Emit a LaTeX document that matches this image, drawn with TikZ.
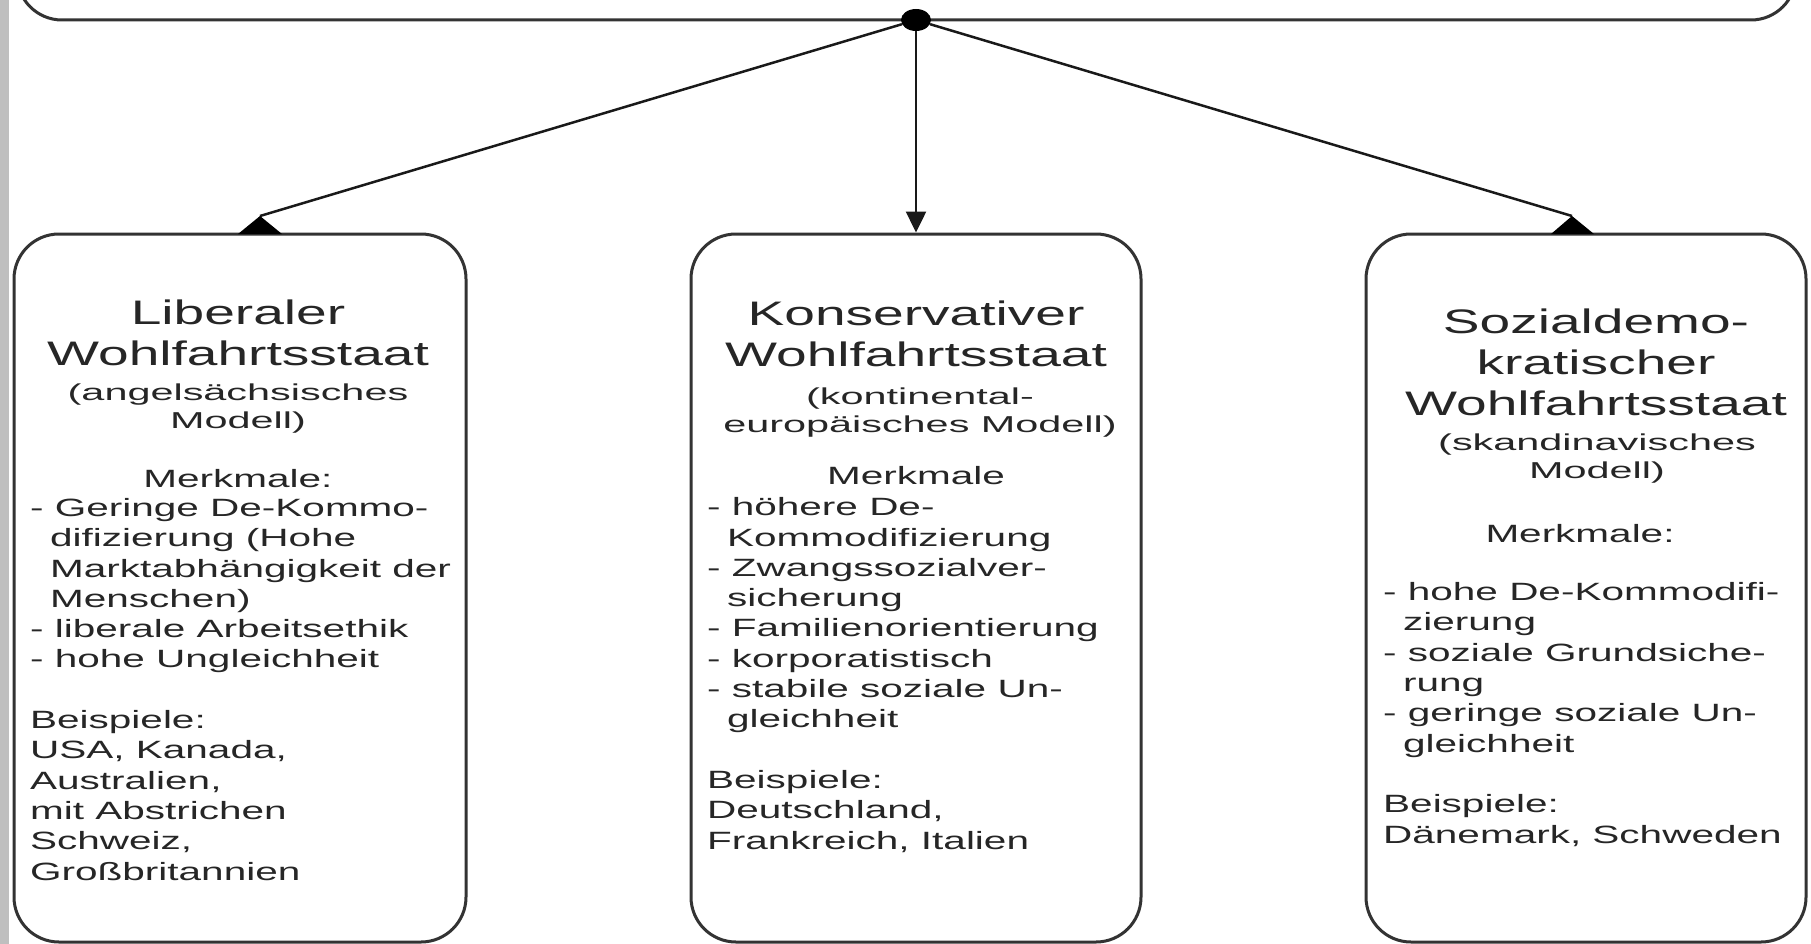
\documentclass[tikz,border=0pt]{standalone}
\usepackage{fontspec}
\setmainfont{Liberation Sans}
\newfontfamily\wfont[FakeStretch=1.62]{Liberation Sans}
\newfontfamily\sfont[FakeStretch=1.8]{Liberation Sans}
\usetikzlibrary{arrows.meta,shapes.geometric}
\newcommand\hind{\hspace*{20pt}}
\begin{document}
\begin{tikzpicture}[x=1pt,y=-1pt,
  box/.style={draw=black!80, line width=3pt, rounded corners=45pt, fill=none},
  conn/.style={draw=black!90, line width=2.5pt},
  ttl/.style={font={\wfont\fontsize{34}{41}\selectfont}, align=center, anchor=base, inner sep=0pt, text=black!85},
  subt/.style={font={\sfont\fontsize{23}{27.7}\selectfont}, align=center, anchor=base, inner sep=0pt, text=black!85},
  mk/.style={font={\wfont\fontsize{25}{30.3}\selectfont}, anchor=base, inner sep=0pt, text=black!85},
  body/.style={font={\wfont\fontsize{25}{30.3}\selectfont}, align=left, anchor=base west, inner sep=0pt, text=black!85}
]
\useasboundingbox (0,0) rectangle (1811,944);
\fill[white] (0,0) rectangle (1811,944);
% left grey strip
\fill[black!25] (0,0) rectangle (9,944);

% top box (only its bottom part is visible)
\node[box, minimum width=1779pt, minimum height=200pt] (top) at (906.5,-80) {};
\node[fill=black, ellipse, minimum width=30pt, minimum height=22pt, inner sep=0pt] (dot) at (916,20) {};

% three boxes
\node[box, minimum width=452pt, minimum height=708pt] (lb) at (240,588) {};
\node[box, minimum width=450pt, minimum height=708pt] (mb) at (916,588) {};
\node[box, minimum width=440pt, minimum height=708pt] (rb) at (1586,588) {};

% connectors
\coordinate (la) at (260,216);
\coordinate (ra) at (1572,216);
\draw[conn] (dot) -- (la);
\fill[black] (238,234) -- (la) -- (282,234) -- cycle;
\draw[conn, -{Triangle[length=21pt,width=20pt]}] (dot) -- (mb.north);
\draw[conn] (dot) -- (ra);
\fill[black] (1551,234) -- (ra) -- (1594,234) -- cycle;

% left box text (anchor = baseline of the last line)
\node[ttl] (t1) at (238,365) {Liberaler\\Wohlfahrtsstaat};
\node[subt] (s1) at (238,428) {(angelsächsisches\\Modell)};
\node[mk] (m1) at (238,487) {Merkmale:};
\node[body] (l1) at (30,880) {- Geringe De-Kommo-\\\hind difizierung (Hohe\\\hind Marktabhängigkeit der\\\hind Menschen)\\- liberale Arbeitsethik\\- hohe Ungleichheit\\[30.3pt]Beispiele:\\USA, Kanada,\\Australien,\\mit Abstrichen\\Schweiz,\\Großbritannien};

% middle box text
\node[ttl] (t2) at (916,366) {Konservativer\\Wohlfahrtsstaat};
\node[subt] (s2) at (920,432) {(kontinental-\\europäisches Modell)};
\node[mk] (m2) at (916,484) {Merkmale};
\node[body] (l2) at (707,849) {- höhere De-\\\hind Kommodifizierung\\- Zwangssozialver-\\\hind sicherung\\- Familienorientierung\\- korporatistisch\\- stabile soziale Un-\\\hind gleichheit\\[30.3pt]Beispiele:\\Deutschland,\\Frankreich, Italien};

% right box text
\node[ttl] (t3) at (1596,415) {Sozialdemo-\\kratischer\\Wohlfahrtsstaat};
\node[subt] (s3) at (1597,478) {(skandinavisches\\Modell)};
\node[mk] (m3) at (1580,542) {Merkmale:};
\node[body] (l3) at (1383,843) {- hohe De-Kommodifi-\\\hind zierung\\- soziale Grundsiche-\\\hind rung\\- geringe soziale Un-\\\hind gleichheit\\[30.3pt]Beispiele:\\Dänemark, Schweden};
\end{tikzpicture}
\end{document}
